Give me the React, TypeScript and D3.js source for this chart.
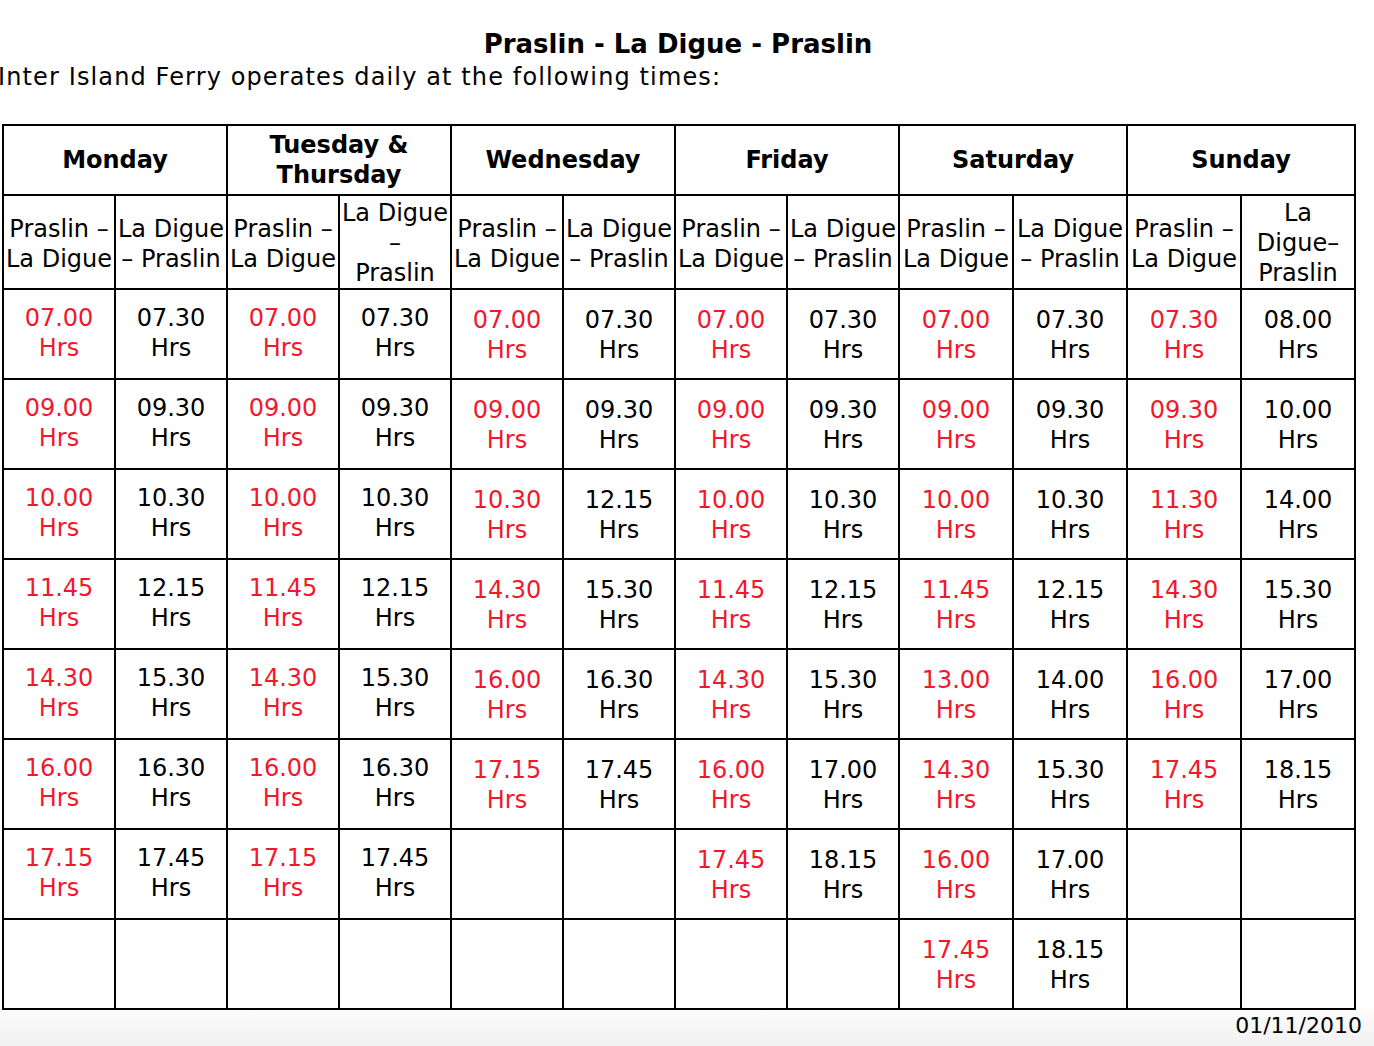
import React from "react";
import * as d3 from "d3";

const title = "Praslin - La Digue - Praslin";
const subtitle = "Inter Island Ferry operates daily at the following times:";
const dateNote = "01/11/2010";

// day groups, each spans two columns
const days = [["Monday"], ["Tuesday &", "Thursday"], ["Wednesday"], ["Friday"], ["Saturday"], ["Sunday"]];

// sub-headers per column
const routeHeaders = [
  ["Praslin –", "La Digue"], ["La Digue", "– Praslin"],
  ["Praslin –", "La Digue"], ["La Digue", "–", "Praslin"],
  ["Praslin –", "La Digue"], ["La Digue", "– Praslin"],
  ["Praslin –", "La Digue"], ["La Digue", "– Praslin"],
  ["Praslin –", "La Digue"], ["La Digue", "– Praslin"],
  ["Praslin –", "La Digue"], ["La", "Digue–", "Praslin"],
];

const monPL = ["07.00", "09.00", "10.00", "11.45", "14.30", "16.00", "17.15"];
const monLP = ["07.30", "09.30", "10.30", "12.15", "15.30", "16.30", "17.45"];
const tueThuPL = ["07.00", "09.00", "10.00", "11.45", "14.30", "16.00", "17.15"];
const tueThuLP = ["07.30", "09.30", "10.30", "12.15", "15.30", "16.30", "17.45"];
const wedPL = ["07.00", "09.00", "10.30", "14.30", "16.00", "17.15"];
const wedLP = ["07.30", "09.30", "12.15", "15.30", "16.30", "17.45"];
const friPL = ["07.00", "09.00", "10.00", "11.45", "14.30", "16.00", "17.45"];
const friLP = ["07.30", "09.30", "10.30", "12.15", "15.30", "17.00", "18.15"];
const satPL = ["07.00", "09.00", "10.00", "11.45", "13.00", "14.30", "16.00", "17.45"];
const satLP = ["07.30", "09.30", "10.30", "12.15", "14.00", "15.30", "17.00", "18.15"];
const sunPL = ["07.30", "09.30", "11.30", "14.30", "16.00", "17.45"];
const sunLP = ["08.00", "10.00", "14.00", "15.30", "17.00", "18.15"];

const columns = [monPL, monLP, tueThuPL, tueThuLP, wedPL, wedLP, friPL, friLP, satPL, satLP, sunPL, sunLP];

const W = 1374;
const H = 1046;
const RED = "#f2182b";
const font = "'DejaVu Sans', Verdana, sans-serif";

export default function App() {
  const nRows = 8;
  // Saturday and Sunday columns are a little wider than the rest
  const colWidths = columns.map((_, i) => (i >= 8 ? 114 : 112));
  const edges = [3, ...Array.from(d3.cumsum(colWidths), (v) => 3 + v)];
  const x = (i: number) => edges[i];
  const y = d3.scaleLinear().domain([0, nRows]).range([289, 1009]);
  const top = 125;
  const headBottom = 195;
  const right = x(columns.length);

  return (
    <svg width={W} height={H} style={{ position: "absolute", left: 0, top: 0, display: "block" }} fontFamily={font}>
      <defs>
        <linearGradient id="foot" x1="0" y1="0" x2="0" y2="1">
          <stop offset="0" stopColor="#fbfbfb" />
          <stop offset="1" stopColor="#f1f1f1" />
        </linearGradient>
      </defs>
      <rect width={W} height={H} fill="#fff" />
      <rect x={0} y={1010} width={W} height={H - 1010} fill="url(#foot)" />

      <text x={678} y={53} textAnchor="middle" fontSize={26} fontWeight="bold">{title}</text>
      <text x={-2} y={85} fontSize={24} textLength={722} lengthAdjust="spacing">{subtitle}</text>

      {/* day header row */}
      {days.map((lines, i) => {
        const cx = (x(i * 2) + x(i * 2 + 2)) / 2;
        const y0 = lines.length === 1 ? 168 : 153;
        return (
          <text key={i} x={cx} textAnchor="middle" fontSize={24} fontWeight="bold">
            {lines.map((l, j) => <tspan key={j} x={cx} y={y0 + j * 30}>{l}</tspan>)}
          </text>
        );
      })}

      {/* route header row */}
      {routeHeaders.map((lines, i) => {
        const cx = (x(i) + x(i + 1)) / 2;
        const y0 = lines.length === 2 ? 237 : 221;
        return (
          <text key={i} x={cx} textAnchor="middle" fontSize={24}>
            {lines.map((l, j) => <tspan key={j} x={cx} y={y0 + j * 30}>{l}</tspan>)}
          </text>
        );
      })}

      {/* times */}
      {columns.map((col, i) =>
        col.map((t, r) => {
          const cx = (x(i) + x(i + 1)) / 2;
          const shift = i >= 4 ? 2 : 0;
          return (
            <text key={`${i}-${r}`} x={cx} textAnchor="middle" fontSize={24} fill={i % 2 === 0 ? RED : "#000"}>
              <tspan x={cx} y={y(r) + 37 + shift}>{t}</tspan>
              <tspan x={cx} y={y(r) + 67 + shift}>Hrs</tspan>
            </text>
          );
        })
      )}

      {/* grid */}
      <g stroke="#000" strokeWidth={2} fill="none">
        <rect x={x(0)} y={top} width={right - x(0)} height={y(nRows) - top} />
        <line x1={x(0)} x2={right} y1={headBottom} y2={headBottom} />
        {d3.range(0, nRows).map((r) => (
          <line key={r} x1={x(0)} x2={right} y1={y(r)} y2={y(r)} />
        ))}
        {d3.range(1, columns.length).map((c) => (
          <line key={c} x1={x(c)} x2={x(c)} y1={c % 2 === 0 ? top : headBottom} y2={y(nRows)} />
        ))}
      </g>

      <text x={1362} y={1033} textAnchor="end" fontSize={22}>{dateNote}</text>
    </svg>
  );
}
